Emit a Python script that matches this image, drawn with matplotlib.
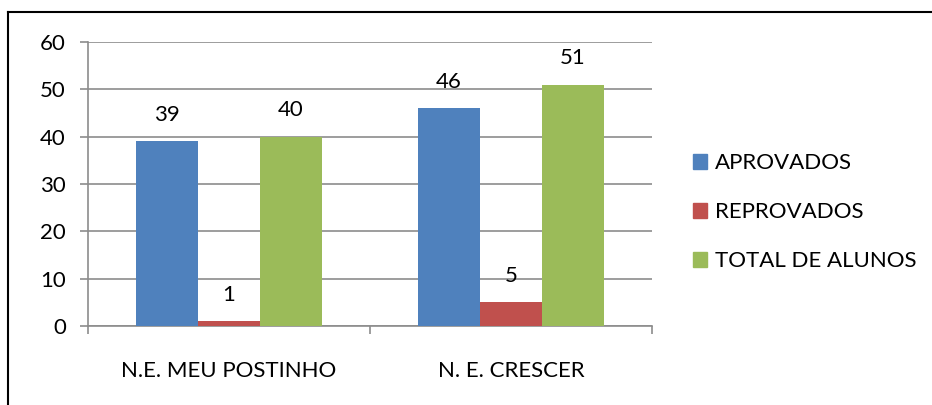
import matplotlib
matplotlib.use("Agg")
import matplotlib.pyplot as plt
from matplotlib.lines import Line2D
from matplotlib.patches import Patch
import numpy as np

# chart data
categories = ["N.E. MEU POSTINHO", "N. E. CRESCER"]
series_names = ["APROVADOS", "REPROVADOS", "TOTAL DE ALUNOS"]
aprovados = [39, 46]
reprovados = [1, 5]
total_alunos = [40, 51]
colors = ["#4F81BD", "#C0504D", "#9BBB59"]

plt.rcParams["font.family"] = ["Lato", "DejaVu Sans"]
fs = 16

fig = plt.figure(figsize=(9.32, 4.05), dpi=100)
ax = fig.add_axes([88 / 932, 79 / 405, 564 / 932, 284 / 405])

x = np.arange(len(categories))
width = 0.22
all_series = [aprovados, reprovados, total_alunos]
for i, (vals, name, c) in enumerate(zip(all_series, series_names, colors)):
    bars = ax.bar(x + (i - 1) * width, vals, width, color=c, label=name, zorder=3)
    for b, v in zip(bars, vals):
        ax.annotate(str(v), (b.get_x() + b.get_width() / 2, v),
                    xytext=(0, 19), textcoords="offset points",
                    ha="center", va="center", fontsize=fs)

ax.set_xlim(-0.5, 1.5)
ax.set_ylim(0, 60)
ax.set_yticks(range(0, 61, 10))
ax.yaxis.grid(True, color="#8c8c8c", linewidth=1.2, zorder=0)
ax.set_axisbelow(True)

# category axis: ticks on the boundaries, labels centred
ax.set_xticks([-0.5, 0.5, 1.5])
ax.set_xticklabels([])
ax.set_xticks(x, minor=True)
ax.set_xticklabels(categories, minor=True)
ax.tick_params(axis="x", which="major", length=6, color="#8c8c8c", width=1.2)
ax.tick_params(axis="x", which="minor", length=0, pad=25, labelsize=fs)
ax.tick_params(axis="y", length=6, color="#8c8c8c", width=1.2, pad=10, labelsize=fs)

for s in ["top", "right"]:
    ax.spines[s].set_visible(False)
for s in ["left", "bottom"]:
    ax.spines[s].set_color("#8c8c8c")
    ax.spines[s].set_linewidth(1.2)

handles = [Patch(color=c) for c in colors]
fig.legend(handles, series_names, loc="center left", bbox_to_anchor=(684 / 932, 1 - 212 / 405),
           frameon=False, fontsize=fs, handlelength=0.65, handleheight=0.65,
           handletextpad=0.35, labelspacing=1.3, borderaxespad=0)

# outer chart border (only top and left visible in the crop)
fig.add_artist(Line2D([8 / 932, 1], [1 - 12 / 405, 1 - 12 / 405], color="black", linewidth=1.5))
fig.add_artist(Line2D([8 / 932, 8 / 932], [0, 1 - 12 / 405], color="black", linewidth=1.5))

fig.savefig("out.png", dpi=100, facecolor="white")
